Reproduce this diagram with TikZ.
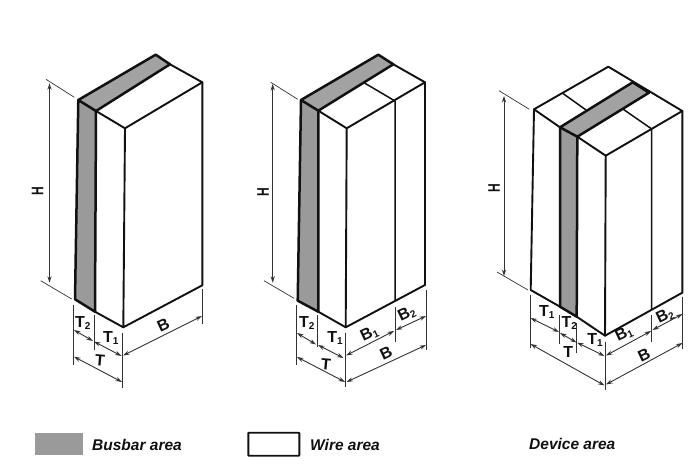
\documentclass[tikz,border=0pt]{standalone}
\usepackage{fontspec}
\setmainfont{Liberation Sans}
\usetikzlibrary{arrows.meta}
\definecolor{busgray}{HTML}{9A9A9A}
\definecolor{bustop}{HTML}{A2A2A2}
\definecolor{inkc}{HTML}{111111}
\definecolor{extc}{HTML}{333333}
\tikzset{
  edge/.style={draw=inkc,line width=1.9pt,line join=round,line cap=round},
  thin edge/.style={draw=inkc,line width=1.5pt,line join=round,line cap=round},
  thick edge/.style={draw=inkc,line width=2.5pt,line join=round,line cap=round},
  ext/.style={draw=extc,line width=0.7pt},
  dim/.style={draw=extc,line width=0.9pt,{Stealth[length=6.5pt,width=4.2pt]}-{Stealth[length=6.5pt,width=4.2pt]}},
  lab/.style={font=\fontsize{16}{16}\selectfont\bfseries,inner sep=0pt,text=inkc},
  hlab/.style={font=\fontsize{12}{12}\selectfont\bfseries,inner sep=0pt,rotate=90,text=inkc},
  legend/.style={font=\fontsize{15.5}{16}\selectfont\bfseries\itshape,inner sep=0pt,anchor=west,text=inkc},
}
\newcommand{\Sb}[1]{\raisebox{-2pt}{\fontsize{10}{11}\selectfont #1}}
\newcommand{\Hh}{\scalebox{1}[1.4]{H}}
\begin{document}
\begin{tikzpicture}[x=1pt,y=-1pt]
\useasboundingbox (0,0) rectangle (700,470);
\fill[white] (0,0) rectangle (700,470);

%% ---------- first block
\fill[bustop] (78.3,100) -- (155.7,54.7) -- (170,64.3) -- (96,111) -- cycle;
\fill[busgray] (78.3,100) -- (96,111) -- (95,311.7) -- (75,299.3) -- cycle;
\draw[edge] (96,111) -- (125,128.3) -- (202.3,82.3) -- (170,64.3);
\draw[edge] (125,128.3) -- (123.3,327.3) -- (202.3,285.3) -- (202.3,82.3);
\draw[edge] (95,311.7) -- (123.3,327.3);
\draw[thick edge] (96,111) -- (95,311.7) -- (75,299.3) -- (78.3,100) -- (96,111) -- (170,64.3) -- (155.7,54.7) -- (78.3,100);
\draw[ext] (46,79.3) -- (74.3,97.3) (40.7,280.7) -- (71.7,299);
\draw[dim] (49.5,83.3) -- (49.5,282.7);
\node[hlab] (h1) at (37.5,191) {\Hh};
\draw[ext] (73.3,305) -- (73.3,365) (94,315) -- (94,350) (122.3,333.3) -- (122.3,388.3) (202.3,289.3) -- (202.3,324);
\draw[dim] (74,330) -- (93,341);
\draw[dim] (94,341.5) -- (121.5,356);
\draw[dim] (74,356.7) -- (122,382);
\draw[dim] (123,355.5) -- (202,316);
\node[lab] (t21) at (82.7,322.7) {T\Sb{2}};
\node[lab] (t11) at (110.7,337.7) {T\Sb{1}};
\node[lab,rotate=-5] (t1) at (100,360) {T};
\node[lab,rotate=25] (b1) at (163.3,325) {B};

%% ---------- second block
\fill[bustop] (301,100) -- (378.3,54.7) -- (393.3,64.3) -- (318.3,110.7) -- cycle;
\fill[busgray] (301,100) -- (318.3,110.7) -- (318.3,311.7) -- (297.7,300.7) -- cycle;
\draw[edge] (318.3,110.7) -- (346.7,128.3) -- (425,82.3) -- (393.3,64.3);
\draw[edge] (346.7,128.3) -- (345.7,327.3) -- (425,285) -- (425,82.3);
\draw[edge] (318.3,311.7) -- (345.7,327.3);
\draw[thin edge] (365,83.3) -- (395,101) -- (395,300.7);
\draw[thick edge] (318.3,110.7) -- (318.3,311.7) -- (297.7,300.7) -- (301,100) -- (318.3,110.7) -- (393.3,64.3) -- (378.3,54.7) -- (301,100);
\draw[ext] (270.7,82.3) -- (297.7,99.3) (264,280.7) -- (294,298.3);
\draw[dim] (272.7,84) -- (272.7,282.7);
\node[hlab] (h2) at (263,192) {\Hh};
\draw[ext] (296,305) -- (296,365) (317.3,315) -- (317.3,347.3) (345,333.3) -- (345,386.7) (395,306.7) -- (395,341.7) (426.7,290) -- (426.7,350);
\draw[dim] (297,333) -- (316,344.5);
\draw[dim] (318,345) -- (343.5,358);
\draw[dim] (297,357) -- (345,382);
\draw[dim] (346,355.5) -- (394,331);
\draw[dim] (396,330) -- (426,316);
\draw[dim] (346.5,382) -- (426,345);
\node[lab] (t22) at (306.7,322.7) {T\Sb{2}};
\node[lab] (t12) at (335,338.3) {T\Sb{1}};
\node[lab,rotate=-5] (t2) at (326,364.3) {T};
\node[lab,rotate=25] (b12) at (369.3,334) {B\Sb{1}};
\node[lab,rotate=25] (b22) at (406.7,314) {B\Sb{2}};
\node[lab,rotate=25] (b2) at (386,353.3) {B};

%% ---------- third block
\fill[bustop] (560,127.3) -- (632.7,82.3) -- (649,92.7) -- (577.3,136.7) -- cycle;
\fill[busgray] (560,127.3) -- (577.3,136.7) -- (576.7,316.7) -- (560,306.7) -- cycle;
\draw[edge] (560,127.3) -- (534,109.3) -- (608.3,66.7) -- (682.3,111) -- (605.7,155.7) -- (577.3,136.7);
\draw[edge] (534,109.3) -- (530.7,290) -- (560,306.7);
\draw[edge] (576.7,316.7) -- (605,335.7) -- (682.3,292.7) -- (682.3,111);
\draw[edge] (605.7,155.7) -- (605,335.7);
\draw[thin edge] (562.7,93.3) -- (586,110);
\draw[thin edge] (623.3,109.3) -- (651.7,129) -- (651.7,309.3);
\draw[thick edge] (560,127.3) -- (632.7,82.3) -- (649,92.7) -- (577.3,136.7) -- cycle;
\draw[thick edge] (560,127.3) -- (560,306.7) -- (576.7,316.7) -- (577.3,136.7);
\draw[ext] (499,90.7) -- (529.3,109.3) (497,272) -- (528,290);
\draw[dim] (504,96) -- (504,276);
\node[hlab] (h3) at (494,188.3) {\Hh};
\draw[ext] (530,295) -- (530,348.3) (559.3,315) -- (559.3,344) (576.7,323.3) -- (576.7,353.3) (605,341.7) -- (605,390) (651.7,315) -- (651.7,341.7) (682.7,296.7) -- (682.7,349.3);
\draw[dim] (530.5,318) -- (559,332);
\draw[dim] (560,333) -- (576.5,342.5);
\draw[dim] (577,342.5) -- (604.5,356);
\draw[dim] (530.5,344) -- (604.5,385.5);
\draw[dim] (606,355.5) -- (651,331);
\draw[dim] (652.5,330) -- (682.5,314);
\draw[dim] (606,384.5) -- (682.5,343);
\node[lab] (t13) at (546.7,311.7) {T\Sb{1}};
\node[lab] (t23) at (569.3,323.3) {T\Sb{2}};
\node[lab] (t1b3) at (595,340) {T\Sb{1}};
\node[lab] (t3) at (568.3,352.3) {T};
\node[lab,rotate=25] (b13) at (624,334) {B\Sb{1}};
\node[lab,rotate=25] (b23) at (665,316) {B\Sb{2}};
\node[lab,rotate=25] (b3) at (644,355) {B};

%% ---------- legend
\fill[busgray] (35,433) rectangle (83,455);
\draw[edge,rounded corners=0.5pt] (248.3,432.7) rectangle (299.3,455.7);
\node[legend] (lg1) at (92,445) {Busbar area};
\node[legend] (lg2) at (310,445) {Wire area};
\node[legend] (lg3) at (529,444) {Device area};
\end{tikzpicture}
\end{document}
